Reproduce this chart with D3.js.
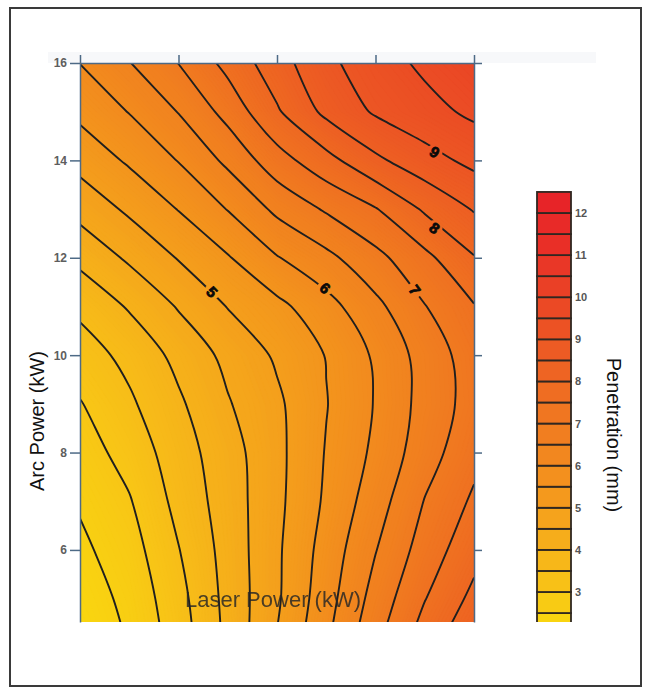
<!DOCTYPE html>
<html>
<head>
<meta charset="utf-8">
<title>Penetration vs laser and arc power</title>
<script src="https://cdn.jsdelivr.net/npm/d3@7"></script>
<style>
  body { margin: 0; background: #fff; }
  svg { display: block; font-family: "Liberation Sans", Arial, sans-serif; }
</style>
</head>
<body>
<svg id="chart" width="645" height="688"></svg>
<script>
// grid columns (laser power, kW) and rows (arc power, kW)
var laserPower = [2, 2.5, 3, 3.5, 4, 4.5, 5, 5.5, 6];
var arcPower = [16, 15, 14, 13, 12, 11, 10, 9, 8, 7, 6, 5, 4];
// penetration (mm), one row per arc power
var penetration = [
  [6.01, 6.48, 7.01, 7.65, 8.29, 8.89, 9.27, 9.60, 9.90],
  [5.62, 6.02, 6.52, 7.17, 7.94, 8.62, 9.06, 9.33, 9.60],
  [5.17, 5.57, 6.02, 6.61, 7.29, 7.83, 8.40, 8.81, 9.13],
  [4.67, 5.09, 5.52, 6.02, 6.61, 7.06, 7.47, 8.07, 8.54],
  [4.13, 4.58, 5.03, 5.46, 5.97, 6.37, 6.86, 7.37, 7.97],
  [3.61, 4.05, 4.54, 5.02, 5.37, 5.82, 6.37, 6.98, 7.47],
  [3.27, 3.64, 4.14, 4.63, 5.07, 5.52, 6.07, 6.70, 7.25],
  [2.97, 3.42, 3.92, 4.46, 4.91, 5.48, 6.03, 6.68, 7.20],
  [2.76, 3.19, 3.77, 4.29, 4.87, 5.53, 6.10, 6.78, 7.35],
  [2.56, 2.96, 3.65, 4.24, 4.88, 5.58, 6.27, 7.02, 7.58],
  [2.39, 2.78, 3.48, 4.19, 4.92, 5.70, 6.48, 7.22, 7.83],
  [2.23, 2.63, 3.33, 4.15, 4.93, 5.80, 6.69, 7.48, 8.13],
  [2.06, 2.52, 3.22, 4.11, 5.04, 5.95, 6.92, 7.80, 8.49]
];
var contourLevels = [2.5, 3, 3.5, 4, 4.5, 5, 5.5, 6, 6.5, 7, 7.5, 8, 8.5, 9, 9.5, 10, 10.5, 11, 11.5, 12];
// contour labels
var labelText = ["5", "6", "7", "8", "9"];
var labelLaser = [3.34, 4.49, 5.40, 5.60, 5.60];
var labelArc = [11.30, 11.38, 11.34, 12.61, 14.17];
// axes
var arcTicks = [6, 8, 10, 12, 14, 16];
var laserTicks = [2, 3, 4, 5, 6];
// colour scale bar
var scaleBands = [2, 2.5, 3, 3.5, 4, 4.5, 5, 5.5, 6, 6.5, 7, 7.5, 8, 8.5, 9, 9.5, 10, 10.5, 11, 11.5, 12];
var scaleTicks = [3, 4, 5, 6, 7, 8, 9, 10, 11, 12];
var colourValues = [2, 3, 4, 5, 6, 7, 8, 9, 10, 11, 12.5];
var colourStops = ["#f9d90e", "#f8c616", "#f6b21a", "#f49e1c", "#f28b1e", "#f07a20", "#ee6822", "#ec5624", "#ea4425", "#e93227", "#e72128"];

var svg = d3.select("#chart");
var x = d3.scaleLinear().domain([2, 6]).range([80, 474]);
var y = d3.scaleLinear().domain([4.52, 16]).range([622, 63]);
var cb = d3.scaleLinear().domain([3, 12]).range([592, 213]);
var colour = d3.scaleLinear()
  .domain(colourValues)
  .range(colourStops)
  .interpolate(d3.interpolateRgb)
  .clamp(true);

var nx = laserPower.length, ny = arcPower.length;
var values = [].concat.apply([], penetration);

// contour grid coords -> data coords (sample i sits at i + 0.5)
function laserAt(cx) { return laserPower[0] + (cx - 0.5) * (laserPower[1] - laserPower[0]); }
function arcAt(cy) { return arcPower[0] + (cy - 0.5) * (arcPower[1] - arcPower[0]); }
var toPixel = d3.geoTransform({
  point: function(cx, cy) { this.stream.point(x(laserAt(cx)), y(arcAt(cy))); }
});
var path = d3.geoPath(toPixel);

function zAt(lx, la) {
  var c = (lx - laserPower[0]) / (laserPower[1] - laserPower[0]);
  var r = (la - arcPower[0]) / (arcPower[1] - arcPower[0]);
  var c0 = Math.max(0, Math.min(nx - 2, Math.floor(c)));
  var r0 = Math.max(0, Math.min(ny - 2, Math.floor(r)));
  var fc = c - c0, fr = r - r0, p = penetration;
  return p[r0][c0] * (1 - fc) * (1 - fr) + p[r0][c0 + 1] * fc * (1 - fr) +
    p[r0 + 1][c0] * (1 - fc) * fr + p[r0 + 1][c0 + 1] * fc * fr;
}

var defs = svg.append("defs");
defs.append("clipPath").attr("id", "plotClip")
  .append("rect")
    .attr("x", x(2)).attr("y", y(16))
    .attr("width", x(6) - x(2)).attr("height", y(4.52) - y(16));
defs.append("clipPath").attr("id", "barClip")
  .append("rect")
    .attr("x", 530).attr("y", 180).attr("width", 60).attr("height", 622 - 180);

var mask = defs.append("mask").attr("id", "labelGap").attr("maskUnits", "userSpaceOnUse")
  .attr("x", 0).attr("y", 0).attr("width", 645).attr("height", 688);
mask.append("rect").attr("width", 645).attr("height", 688).style("fill", "white");
mask.selectAll("circle")
    .data(labelText)
  .enter().append("circle")
    .attr("cx", function(d, i) { return x(labelLaser[i]); })
    .attr("cy", function(d, i) { return y(labelArc[i]); })
    .attr("r", 8)
    .style("fill", "black");

// outer frame
svg.append("rect")
  .attr("x", 10).attr("y", 8).attr("width", 631).attr("height", 678)
  .style("fill", "none").style("stroke", "#3a3a3a").style("stroke-width", 2);

// faint strip behind the top ticks
svg.append("rect")
  .attr("x", 48).attr("y", 52).attr("width", 548).attr("height", 11)
  .style("fill", "#f7f8fa");

// filled field
var fillSteps = d3.range(1.5, 12.6, 0.05);
var fills = d3.contours().size([nx, ny]).thresholds(fillSteps)(values);
var plot = svg.append("g").attr("clip-path", "url(#plotClip)");
plot.selectAll(".band")
    .data(fills)
  .enter().append("path")
    .classed("band", true)
    .attr("d", path)
    .style("fill", function(d) { return colour(d.value + 0.025); })
    .style("stroke", function(d) { return colour(d.value + 0.025); })
    .style("stroke-width", 0.4);

// contour lines, split off the grid boundary and smoothed
var line = d3.line()
  .x(function(p) { return x(laserAt(p[0])); })
  .y(function(p) { return y(arcAt(p[1])); })
  .curve(d3.curveCatmullRom.alpha(0.5));
function onEdge(p) { return p[0] <= 0 || p[0] >= nx || p[1] <= 0 || p[1] >= ny; }
var runs = [];
contourLevels.forEach(function(lv) {
  var c = d3.contours().size([nx, ny]).thresholds([lv])(values)[0];
  c.coordinates.forEach(function(poly) {
    poly.forEach(function(ring) {
      var pts = ring.slice(0, -1);
      var start = pts.findIndex(onEdge);
      if (start < 0) { runs.push(pts.concat([pts[0]])); return; }
      var cur = [];
      for (var k = 0; k <= pts.length; k++) {
        var p = pts[(start + k) % pts.length];
        if (onEdge(p)) {
          if (cur.length > 1) runs.push(cur);
          cur = [];
        } else {
          cur.push(p);
        }
      }
    });
  });
});
var lines = plot.append("g").attr("mask", "url(#labelGap)");
lines.selectAll(".contour")
    .data(runs)
  .enter().append("path")
    .classed("contour", true)
    .attr("d", line)
    .style("fill", "none")
    .style("stroke", "#1f1f1f")
    .style("stroke-width", 1.9);

// contour labels, turned along the line
plot.selectAll(".clabel")
    .data(labelText)
  .enter().append("text")
    .classed("clabel", true)
    .attr("transform", function(d, i) {
      var lx = labelLaser[i], la = labelArc[i];
      var px = x(lx), py = y(la);
      var gx = zAt(x.invert(px + 3), la) - zAt(x.invert(px - 3), la);
      var gy = zAt(lx, y.invert(py + 3)) - zAt(lx, y.invert(py - 3));
      var a = Math.atan2(-gx, gy) * 180 / Math.PI;
      if (a > 90) a -= 180;
      if (a < -90) a += 180;
      return "translate(" + px + "," + py + ") rotate(" + a + ")";
    })
    .attr("text-anchor", "middle")
    .attr("dy", "0.36em")
    .style("font-size", "15px")
    .style("font-weight", "bold")
    .style("fill", "#0a0a0a")
    .style("stroke", "#0a0a0a")
    .style("stroke-width", 0.8)
    .text(function(d) { return d; });

// x label sits inside the plot
svg.append("text")
  .attr("x", 273).attr("y", 607)
  .attr("text-anchor", "middle")
  .style("font-size", "22px")
  .style("fill", "#262626")
  .style("opacity", 0.82)
  .text("Laser Power (kW)");

// axes
var axisColour = "#4d6a86";
var topAxis = svg.append("g")
  .attr("transform", "translate(0," + y(16) + ")")
  .call(d3.axisTop(x).tickValues(laserTicks).tickSize(8).tickSizeOuter(0).tickFormat(""));
var leftAxis = svg.append("g")
  .attr("transform", "translate(" + x(2) + ",0)")
  .call(d3.axisLeft(y).tickValues(arcTicks).tickSize(10).tickSizeOuter(0).tickPadding(3));
var rightAxis = svg.append("g")
  .attr("transform", "translate(" + x(6) + ",0)")
  .call(d3.axisRight(y).tickValues(arcTicks).tickSize(8).tickSizeOuter(0).tickFormat(""));
[topAxis, leftAxis, rightAxis].forEach(function(g) {
  g.selectAll("path, line").style("stroke", axisColour).style("stroke-width", 1.5);
});
leftAxis.selectAll("text")
  .style("font-family", "Liberation Sans, Arial, sans-serif")
  .style("font-size", "12px")
  .style("font-weight", "bold")
  .style("fill", "#5e5e5e");

svg.append("text")
  .attr("transform", "translate(44,421) rotate(-90)")
  .attr("text-anchor", "middle")
  .style("font-size", "20px")
  .style("fill", "#111")
  .text("Arc Power (kW)");

// colour scale bar
var bar = svg.append("g").attr("clip-path", "url(#barClip)");
bar.selectAll(".swatch")
    .data(scaleBands)
  .enter().append("rect")
    .classed("swatch", true)
    .attr("x", 537)
    .attr("width", 34)
    .attr("y", function(d) { return cb(d + 0.5); })
    .attr("height", function(d) { return cb(d) - cb(d + 0.5); })
    .style("fill", function(d) { return colour(d + 0.25); })
    .style("stroke", "#2f2721")
    .style("stroke-width", 1.8);

svg.selectAll(".scaleTick")
    .data(scaleTicks)
  .enter().append("text")
    .classed("scaleTick", true)
    .attr("x", 575)
    .attr("y", function(d) { return cb(d); })
    .attr("dy", "0.36em")
    .style("font-size", "11px")
    .style("font-weight", "bold")
    .style("fill", "#555")
    .text(function(d) { return d; });

svg.append("text")
  .attr("transform", "translate(607,435) rotate(90)")
  .attr("text-anchor", "middle")
  .style("font-size", "20px")
  .style("fill", "#111")
  .text("Penetration (mm)");
</script>
</body>
</html>
